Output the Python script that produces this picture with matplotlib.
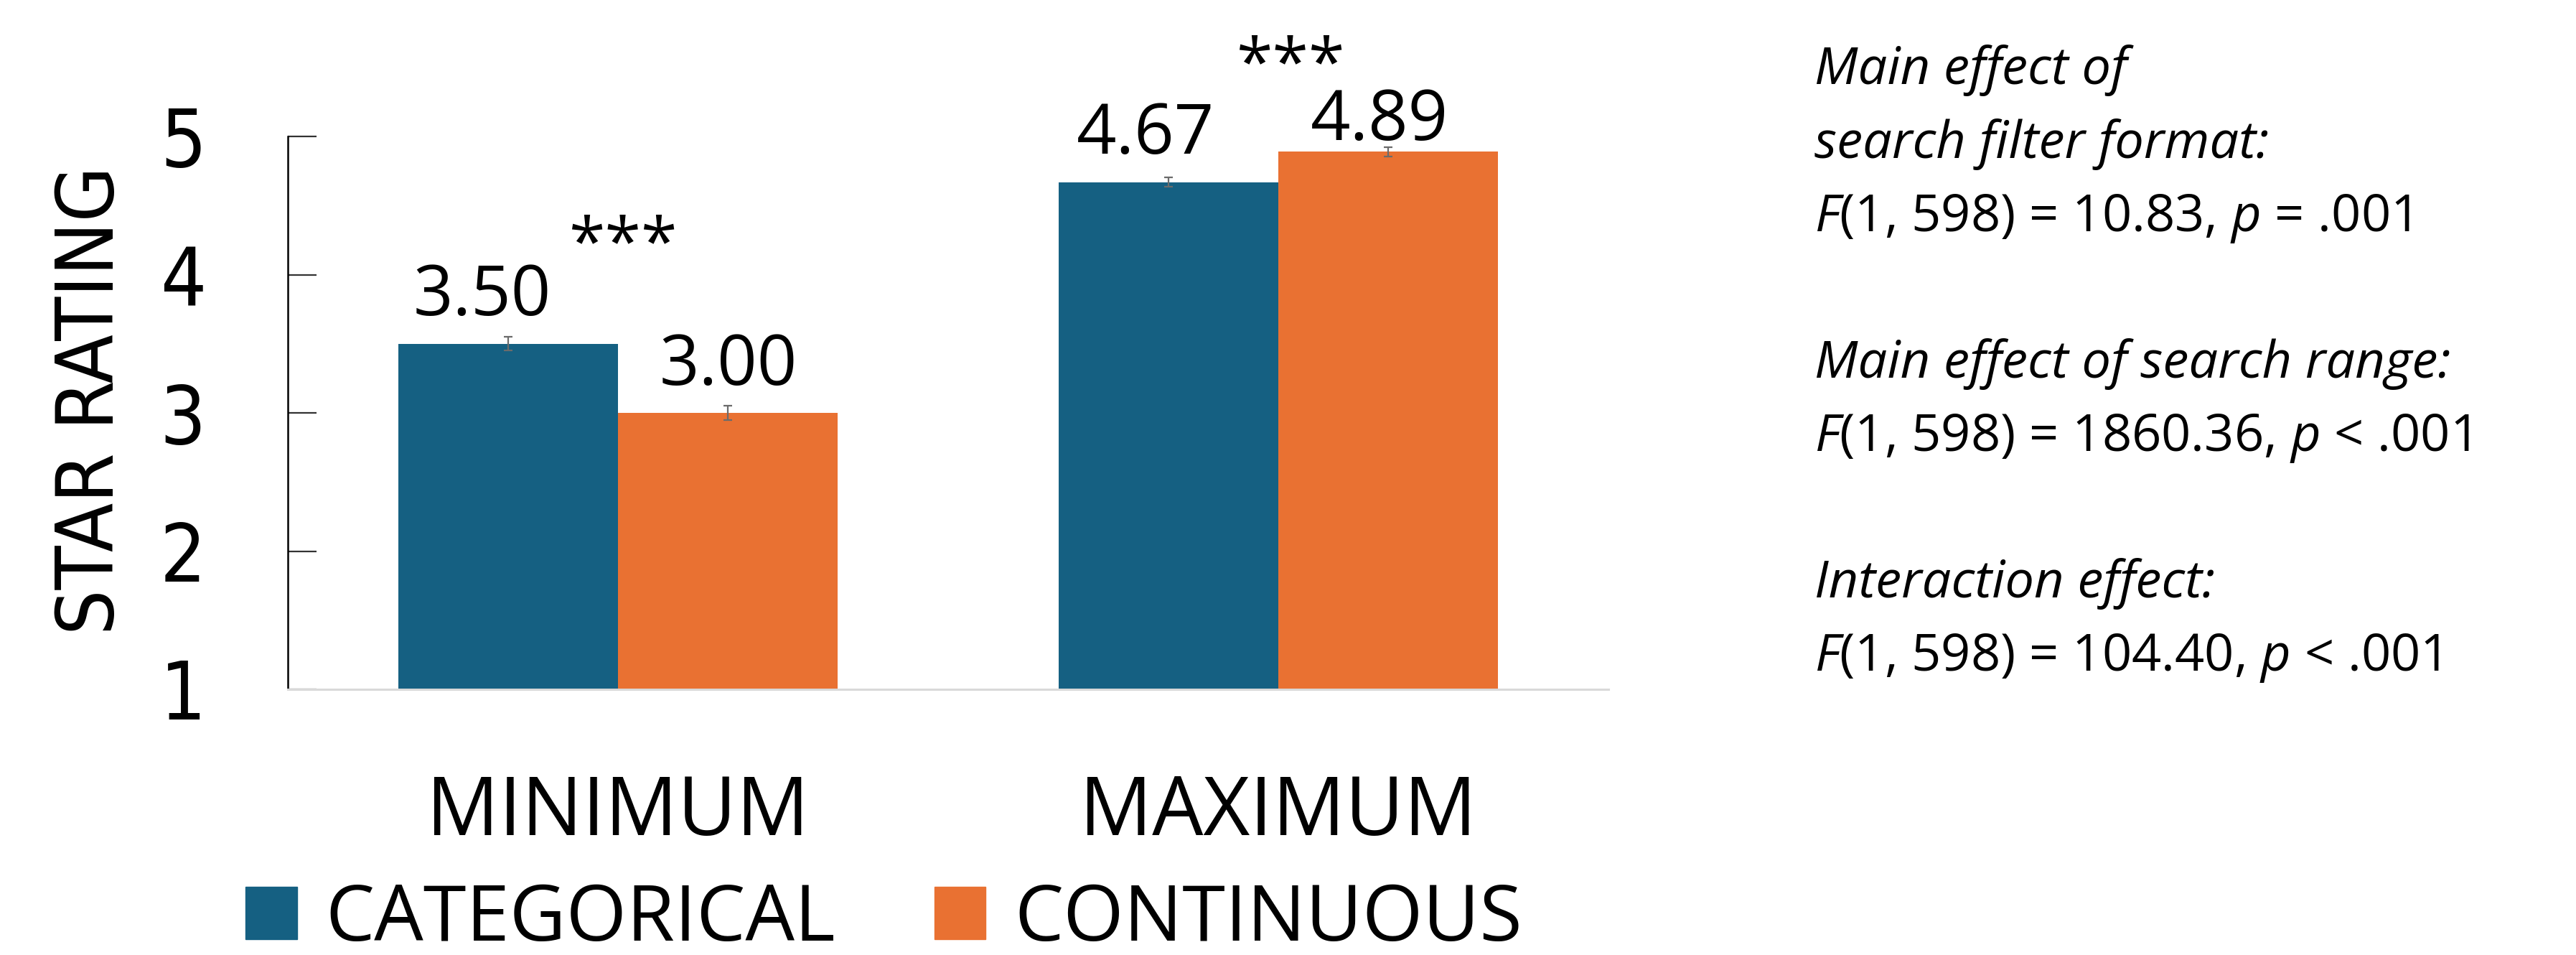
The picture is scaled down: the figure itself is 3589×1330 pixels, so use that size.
import matplotlib
matplotlib.use('Agg')
import matplotlib.pyplot as plt
import numpy as np
from matplotlib.patches import Patch

# data
groups = ['MINIMUM', 'MAXIMUM']
series = ['CATEGORICAL', 'CONTINUOUS']
categorical = [3.50, 4.67]
continuous = [3.00, 4.89]
err_categorical = [0.05, 0.035]
err_continuous = [0.05, 0.033]
yticks = [1, 2, 3, 4, 5]
stars = ['***', '***']
stats_lines = ['Main effect of',
               'search filter format:',
               '$F$(1, 598) = 10.83, $p$ = .001',
               'Main effect of search range:',
               '$F$(1, 598) = 1860.36, $p$ < .001',
               'Interaction effect:',
               '$F$(1, 598) = 104.40, $p$ < .001']

blue = '#156082'
orange = '#E97132'

plt.rcParams['mathtext.fontset'] = 'custom'
plt.rcParams['mathtext.it'] = 'Open Sans:italic'
plt.rcParams['mathtext.rm'] = 'Open Sans'

W, H = 3589, 1330
fig = plt.figure(figsize=(W / 100, H / 100), dpi=100)
ax = fig.add_axes([401 / W, 1 - 960 / H, 1840 / W, 770 / H])

x = np.arange(len(groups))
w = 0.333
ax.bar(x - w / 2, categorical, w, color=blue, zorder=2)
ax.bar(x + w / 2, continuous, w, color=orange, zorder=2)
ax.errorbar(x - w / 2, categorical, yerr=err_categorical, fmt='none', ecolor='#6b6b6b',
            elinewidth=1.6, capsize=4.5, capthick=1.6, zorder=3)
ax.errorbar(x + w / 2, continuous, yerr=err_continuous, fmt='none', ecolor='#6b6b6b',
            elinewidth=1.6, capsize=4.5, capthick=1.6, zorder=3)

ax.set_xlim(-0.5, 1.5)
ax.set_ylim(1, 5)

# value labels above bars (pixel nudges)
lab_dx = [[-36, -32], [1, -12]]
lab_dy = [[40, 40], [39, 16]]
for j, vals in enumerate([categorical, continuous]):
    xs = x - w / 2 if j == 0 else x + w / 2
    for i, v in enumerate(vals):
        ax.annotate('%.2f' % v, (xs[i], v), xytext=(lab_dx[j][i], lab_dy[j][i]),
                    textcoords='offset pixels', ha='center', va='baseline',
                    family='Open Sans', fontsize=70, annotation_clip=False)

# significance stars
star_y = [4.075, 5.374]
star_dx = [0.007, 0.018]
for i, s in enumerate(stars):
    ax.text(x[i] + star_dx[i], star_y[i], s, ha='center', va='baseline',
            family='Open Sans', fontsize=66, clip_on=False)

# axes styling
for s in ['top', 'right']:
    ax.spines[s].set_visible(False)
ax.spines['left'].set_color('black')
ax.spines['left'].set_linewidth(1.8)
ax.spines['bottom'].set_color('#d9d9d9')
ax.spines['bottom'].set_linewidth(2.2)
ax.set_yticks(yticks)
ax.set_yticklabels([str(t) for t in yticks], family='DejaVu Sans', fontstretch='condensed', fontsize=81)
ax.tick_params(axis='y', direction='in', length=29, width=1.6, color='#333333', pad=82)
ax.set_xticks(x)
ax.set_xticklabels(groups, family='Open Sans', fontsize=81)
ax.tick_params(axis='x', length=0, pad=84)
ax.set_ylabel('STAR RATING', family='DejaVu Sans', fontstretch='condensed', fontsize=80, va='center')
ax.yaxis.set_label_coords((128 - 401) / 1840, (960 - 557) / 770)

# legend
handles = [Patch(color=blue), Patch(color=orange)]
fig.legend(handles, series, loc='lower left', bbox_to_anchor=(342 / W, -6 / H), ncol=2,
           frameon=False, prop={'family': 'Open Sans', 'size': 78}, handlelength=0.66,
           handleheight=0.66, handletextpad=0.37, columnspacing=1.27, borderpad=0,
           borderaxespad=0)

# statistics text on the right
baselines = [117, 220, 322, 526, 628, 832, 934]
for t, b in zip(stats_lines, baselines):
    st = 'normal' if t.startswith('$F$') else 'italic'
    fig.text(2528 / W, 1 - b / H, t, ha='left', va='baseline', family='Open Sans',
             style=st, fontsize=52)

fig.savefig('out.png', dpi=100)
